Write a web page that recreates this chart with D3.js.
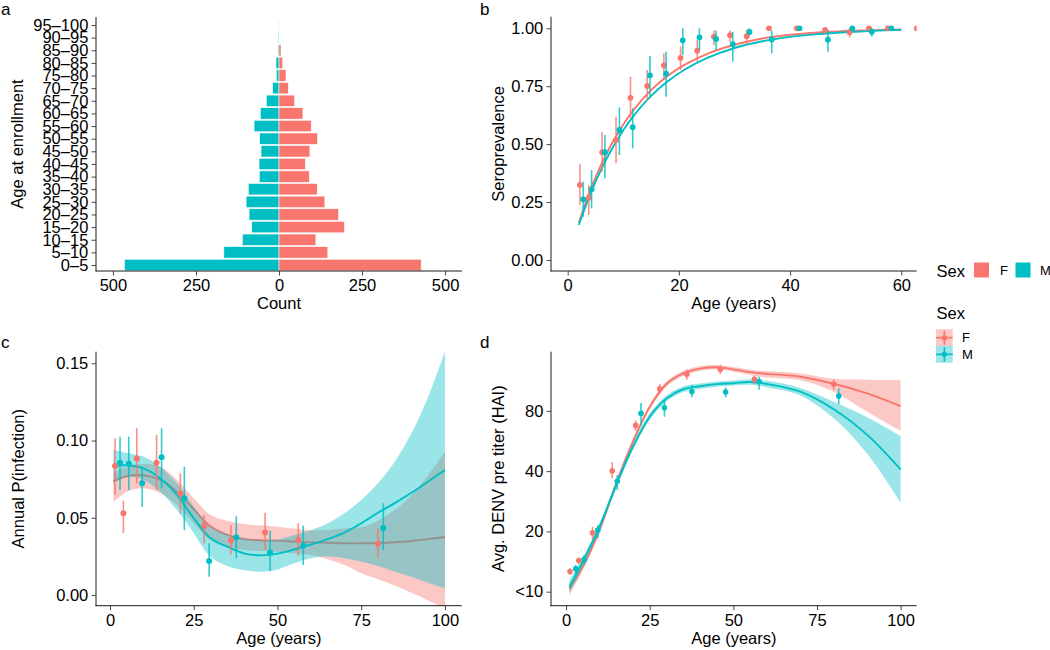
<!DOCTYPE html>
<html>
<head>
<meta charset="utf-8">
<script src="https://cdn.jsdelivr.net/npm/d3@7"></script>
<style>
  body { margin: 0; background: #fff; }
  svg text { font-family: "Liberation Sans", Arial, Helvetica, sans-serif; }
</style>
</head>
<body>
<svg id="chart" width="1050" height="650"></svg>
<script>
"use strict";

// ---- panel a : age pyramid
var ageGroups = ['0–5','5–10','10–15','15–20','20–25','25–30','30–35','35–40','40–45','45–50',
                 '50–55','55–60','60–65','65–70','70–75','75–80','80–85','85–90','90–95','95–100'];
var femaleCounts = [428,147,111,197,179,138,115,91,79,93,116,97,72,47,28,21,11,6,0,0];
var maleCounts   = [465,166,110,82,90,99,92,59,60,54,58,75,56,38,19,8,9,3,2,1];
var countTicks = [-500,-250,0,250,500];

// ---- panel b : seroprevalence  [age, estimate, low, high]
var seroFemale = [
  [2.2,0.324,0.237,0.413],[3.8,0.269,0.194,0.324],[6.2,0.465,0.381,0.551],[8.7,0.518,0.417,0.618],
  [11.3,0.700,0.612,0.791],[14.3,0.751,0.690,0.820],[17.3,0.840,0.777,0.892],[20.3,0.872,0.820,0.921],
  [23.3,0.903,0.856,0.950],[26.3,0.964,0.928,0.990],[29.2,0.970,0.940,0.990],[32.2,0.966,0.928,0.995],
  [36.2,1.000,1.000,1.000],[41.2,1.000,1.000,1.000],[46.3,0.993,0.975,1.000],[50.7,0.983,0.960,1.000],
  [54.2,1.000,1.000,1.000],[57.6,1.000,1.000,1.000],[62.8,1.000,1.000,1.000]];
var seroMale = [
  [2.8,0.262,0.187,0.338],[4.3,0.305,0.223,0.388],[6.7,0.465,0.353,0.539],[9.3,0.561,0.453,0.659],
  [11.7,0.573,0.482,0.655],[14.8,0.797,0.705,0.880],[17.7,0.804,0.705,0.899],[20.7,0.948,0.885,1.000],
  [23.7,0.961,0.906,1.000],[26.7,0.954,0.906,0.990],[29.7,0.931,0.856,0.985],[32.7,0.984,0.970,1.000],
  [36.7,0.952,0.892,0.990],[41.7,1.000,1.000,1.000],[46.8,0.951,0.899,0.993],[51.2,1.000,1.000,1.000],
  [54.7,0.985,0.965,1.000],[58.2,1.000,1.000,1.000]];
var seroCurveAges = [2,4,6,8,10,12,15,18,21,25,30,35,40,45,50,55,60];
var seroCurveF = [0.161,0.297,0.410,0.505,0.585,0.652,0.733,0.795,0.842,0.889,0.929,0.956,0.972,0.982,0.988,0.992,0.995];
var seroCurveM = [0.151,0.280,0.389,0.481,0.560,0.626,0.708,0.771,0.821,0.871,0.915,0.944,0.963,0.975,0.983,0.989,0.993];
var seroTicksX = [0,20,40,60];
var seroTicksY = [0,0.25,0.5,0.75,1];

// ---- panel c : annual probability of infection
var infFemale = [
  [1.5,0.0835,0.0648,0.1015],[4.0,0.0529,0.0400,0.0611],[8.0,0.0883,0.0723,0.1080],[13.9,0.0857,0.0680,0.1036],
  [21.0,0.0656,0.0529,0.0788],[28.1,0.0447,0.0335,0.0518],[36.1,0.0354,0.0260,0.0453],[46.3,0.0404,0.0291,0.0533],
  [56.2,0.0356,0.0252,0.0464],[80.0,0.0332,0.0238,0.0432]];
var infMale = [
  [3.0,0.0857,0.0680,0.1025],[5.6,0.0850,0.0680,0.1025],[9.6,0.0723,0.0570,0.0830],[15.4,0.0892,0.0690,0.1080],
  [22.2,0.0626,0.0420,0.0830],[29.6,0.0220,0.0119,0.0335],[37.7,0.0374,0.0238,0.0510],[47.8,0.0276,0.0155,0.0416],
  [57.7,0.0319,0.0194,0.0449],[81.6,0.0434,0.0291,0.0594]];
var infFitAges = [1,5,10,15,20,25,30,35,40,45,50,55,60,65,70,75,80,85,90,95,100];
var infFitF   = [0.0735,0.0768,0.0775,0.0745,0.0669,0.0555,0.0445,0.0390,0.0362,0.0355,0.0352,0.0346,0.0341,0.0338,0.0335,0.0335,0.0337,0.0342,0.0350,0.0362,0.0376];
var infFitFLo = [0.0600,0.0669,0.0691,0.0659,0.0583,0.0464,0.0356,0.0313,0.0291,0.0285,0.0280,0.0270,0.0259,0.0232,0.0194,0.0141,0.0102,0.0062,0.0015,-0.0035,-0.0090];
var infFitFHi = [0.0790,0.0830,0.0848,0.0830,0.0745,0.0626,0.0518,0.0481,0.0460,0.0450,0.0442,0.0430,0.0420,0.0422,0.0432,0.0438,0.0481,0.0550,0.0648,0.0777,0.0928];
var infFitM   = [0.0835,0.0840,0.0820,0.0756,0.0648,0.0497,0.0367,0.0313,0.0270,0.0257,0.0268,0.0295,0.0327,0.0362,0.0404,0.0464,0.0533,0.0595,0.0662,0.0735,0.0810];
var infFitMLo = [0.0723,0.0766,0.0745,0.0669,0.0550,0.0400,0.0248,0.0188,0.0162,0.0151,0.0166,0.0205,0.0238,0.0249,0.0238,0.0216,0.0188,0.0151,0.0119,0.0080,0.0043];
var infFitMHi = [0.0940,0.0920,0.0896,0.0830,0.0723,0.0572,0.0442,0.0395,0.0367,0.0356,0.0360,0.0389,0.0420,0.0464,0.0529,0.0615,0.0723,0.0863,0.1047,0.1284,0.1576];
var ageTicks = [0,25,50,75,100];
var infTicksY = [0,0.05,0.1,0.15];

// ---- panel d : average DENV titer
var titerFemale = [
  [1.2,12.6,12.1,13.1],[3.8,14.3,13.7,14.8],[7.9,19.7,18.3,21.1],[13.8,40.1,36.8,44.5],[20.8,67.7,63.6,71.9],
  [28.0,103,97,109],[36.1,122,114.5,128.6],[46.1,129,122,136],[56.3,115,109,120],[80.0,109,102,114.5]];
var titerMale = [
  [2.9,13.0,12.3,13.6],[5.4,14.5,13.6,15.2],[9.5,20.3,18.5,21.5],[15.3,35.6,32.2,38.2],[22.4,77.7,67.8,87.6],
  [29.4,82.9,74.8,90.3],[37.6,100,93.5,107.6],[47.7,99.3,93.5,104.8],[57.7,112,102,118.5],[81.5,94.8,86.6,103.7]];
var titerFitAges = [1,5,10,15,20,25,30,35,40,45,50,55,60,70,80,90,100];
var titerFitF   = [10.3,13.3,20.3,34.8,56.2,83.6,108.9,123,130,132.2,129,125,122.5,118.5,109.3,97.8,84.4];
var titerFitFLo = [9.6,12.8,19.6,33.6,54.4,81.2,105.8,119.5,126.5,129,125.5,121,117.5,113.8,99.7,79.2,63.6];
var titerFitFHi = [11.0,13.8,21.0,36.0,58.0,86.0,112,126.5,133.5,135.5,132.5,128.5,126.5,123,115.6,114.4,113.8];
var titerFitM   = [10.6,14.1,21.1,34.1,53.0,74.8,92.2,102.6,106.2,108.8,110,111.5,109,99.7,81.5,60.7,40.8];
var titerFitMLo = [9.8,13.4,20.3,32.8,51.0,72.0,89.0,99.3,103,105.7,107,108,105,95.5,73.4,48.9,27.8];
var titerFitMHi = [11.4,14.8,22.0,35.5,55.2,77.8,95.5,106,109.5,112,113.5,115,113,104,88.8,74.4,59.9];
var titerTicks = [10,20,40,80];
var titerTickLabels = ['<10','20','40','80'];

(function draw() {
  var FEMALE = '#F8766D', MALE = '#00BFC4';
  var FONT = '16.5px';
  var svg = d3.select('#chart');
  var defs = svg.append('defs');

  var boxA = {left: 96, right: 462, top: 17, bottom: 271};
  var boxB = {left: 551, right: 916.7, top: 16.7, bottom: 271};
  var boxC = {left: 96, right: 461.7, top: 351.7, bottom: 605.7};
  var boxD = {left: 551, right: 916.7, top: 351.7, bottom: 605.7};

  function panel(id, box) {
    defs.append('clipPath').attr('id', 'clip-' + id).append('rect')
      .attr('x', box.left).attr('y', box.top)
      .attr('width', box.right - box.left).attr('height', box.bottom - box.top);
    var g = svg.append('g');
    var plot = g.append('g').attr('clip-path', 'url(#clip-' + id + ')');
    return {g: g, plot: plot};
  }

  function styleAxis(ax) {
    ax.select('.domain').remove();
    ax.selectAll('.tick line').attr('stroke', '#333').attr('stroke-width', 0.9);
    ax.selectAll('.tick text').attr('fill', '#000').style('font-size', FONT);
  }

  function bottomAxis(g, box, scale, ticks, fmt) {
    var ax = g.append('g').attr('transform', 'translate(0,' + box.bottom + ')')
      .call(d3.axisBottom(scale).tickValues(ticks).tickFormat(fmt).tickSize(4.5).tickPadding(3.8));
    styleAxis(ax);
  }

  function leftAxis(g, box, scale, ticks, fmt) {
    var axis = d3.axisLeft(scale).tickSize(4.5).tickPadding(3.2);
    if (ticks) axis.tickValues(ticks);
    if (fmt) axis.tickFormat(fmt);
    var ax = g.append('g').attr('transform', 'translate(' + box.left + ',0)').call(axis);
    styleAxis(ax);
  }

  function axisLines(g, box) {
    g.append('line').attr('x1', box.left).attr('x2', box.left).attr('y1', box.top).attr('y2', box.bottom + 0.45)
      .attr('stroke', '#000').attr('stroke-width', 0.9);
    g.append('line').attr('x1', box.left - 0.45).attr('x2', box.right).attr('y1', box.bottom).attr('y2', box.bottom)
      .attr('stroke', '#000').attr('stroke-width', 0.9);
  }

  function titles(g, box, xText, yText, yX) {
    g.append('text').attr('x', (box.left + box.right) / 2).attr('y', box.bottom + 38)
      .attr('text-anchor', 'middle').style('font-size', FONT).text(xText);
    var cy = (box.top + box.bottom) / 2;
    g.append('text').attr('transform', 'translate(' + yX + ',' + cy + ') rotate(-90)')
      .attr('text-anchor', 'middle').style('font-size', FONT).text(yText);
  }

  function letter(text, x, y) {
    svg.append('text').attr('x', x).attr('y', y).style('font-size', '17px').text(text);
  }

  function pointRange(plot, data, x, y, color, r) {
    plot.append('g').selectAll('line').data(data).enter().append('line')
      .attr('x1', function(d) { return x(d[0]); }).attr('x2', function(d) { return x(d[0]); })
      .attr('y1', function(d) { return y(d[2]); }).attr('y2', function(d) { return y(d[3]); })
      .attr('stroke', color).attr('stroke-width', 1.6).attr('opacity', 0.8);
    plot.append('g').selectAll('circle').data(data).enter().append('circle')
      .attr('cx', function(d) { return x(d[0]); }).attr('cy', function(d) { return y(d[1]); })
      .attr('r', r).attr('fill', color);
  }

  function smooth(plot, ages, fit, lo, hi, x, y, color) {
    if (lo) {
      var area = d3.area().curve(d3.curveCatmullRom.alpha(0.5))
        .x(function(d, i) { return x(ages[i]); })
        .y0(function(d, i) { return y(lo[i]); })
        .y1(function(d, i) { return y(hi[i]); });
      plot.append('path').datum(ages).attr('d', area).attr('fill', color).attr('fill-opacity', 0.4);
    }
    var line = d3.line().curve(d3.curveCatmullRom.alpha(0.5))
      .x(function(d, i) { return x(ages[i]); })
      .y(function(d) { return y(d); });
    plot.append('path').datum(fit).attr('d', line).attr('fill', 'none')
      .attr('stroke', color).attr('stroke-width', 1.9);
  }

  // ---------- a
  var pa = panel('a', boxA);
  var xA = d3.scaleLinear().domain([-551, 551]).range([boxA.left, boxA.right]);
  var yA = d3.scalePoint().domain(ageGroups).range([265, 25]);
  var bh = yA.step() * 0.9;
  pa.plot.append('g').selectAll('rect').data(maleCounts).enter().append('rect')
    .attr('x', function(d) { return xA(-d); }).attr('width', function(d) { return xA(0) - xA(-d); })
    .attr('y', function(d, i) { return yA(ageGroups[i]) - bh / 2; }).attr('height', bh)
    .attr('fill', MALE).attr('stroke', '#fff').attr('stroke-width', 0.5);
  pa.plot.append('g').selectAll('rect').data(femaleCounts).enter().append('rect')
    .attr('x', xA(0)).attr('width', function(d) { return xA(d) - xA(0); })
    .attr('y', function(d, i) { return yA(ageGroups[i]) - bh / 2; }).attr('height', bh)
    .attr('fill', FEMALE).attr('stroke', '#fff').attr('stroke-width', 0.5);
  axisLines(pa.g, boxA);
  bottomAxis(pa.g, boxA, xA, countTicks, function(d) { return Math.abs(d); });
  leftAxis(pa.g, boxA, yA);
  titles(pa.g, boxA, 'Count', 'Age at enrollment', 23);
  letter('a', 1, 15);

  // ---------- b
  var pb = panel('b', boxB);
  var xB = d3.scaleLinear().domain([-3.0, 62.77]).range([boxB.left, boxB.right]);
  var yB = d3.scaleLinear().domain([-0.0475, 1.05]).range([boxB.bottom, boxB.top]);
  smooth(pb.plot, seroCurveAges, seroCurveF, null, null, xB, yB, FEMALE);
  smooth(pb.plot, seroCurveAges, seroCurveM, null, null, xB, yB, MALE);
  pointRange(pb.plot, seroFemale, xB, yB, FEMALE, 2.9);
  pointRange(pb.plot, seroMale, xB, yB, MALE, 2.9);
  axisLines(pb.g, boxB);
  bottomAxis(pb.g, boxB, xB, seroTicksX, d3.format('d'));
  leftAxis(pb.g, boxB, yB, seroTicksY, d3.format('.2f'));
  titles(pb.g, boxB, 'Age (years)', 'Seroprevalence', 503.5);
  letter('b', 480, 15);

  // ---------- c
  var pc = panel('c', boxC);
  var xC = d3.scaleLinear().domain([-4.18, 105]).range([boxC.left, boxC.right]);
  var yC = d3.scaleLinear().domain([-0.0069, 0.1575]).range([boxC.bottom, boxC.top]);
  smooth(pc.plot, infFitAges, infFitF, infFitFLo, infFitFHi, xC, yC, FEMALE);
  smooth(pc.plot, infFitAges, infFitM, infFitMLo, infFitMHi, xC, yC, MALE);
  pointRange(pc.plot, infFemale, xC, yC, FEMALE, 3);
  pointRange(pc.plot, infMale, xC, yC, MALE, 3);
  axisLines(pc.g, boxC);
  bottomAxis(pc.g, boxC, xC, ageTicks, d3.format('d'));
  leftAxis(pc.g, boxC, yC, infTicksY, d3.format('.2f'));
  titles(pc.g, boxC, 'Age (years)', 'Annual P(infection)', 23.5);
  letter('c', 1, 348);

  // ---------- d
  var pd = panel('d', boxD);
  var xD = d3.scaleLinear().domain([-4.5, 104.8]).range([boxD.left, boxD.right]);
  var yD = d3.scaleLog().base(2).domain([8.51, 158]).range([boxD.bottom, boxD.top]);
  smooth(pd.plot, titerFitAges, titerFitF, titerFitFLo, titerFitFHi, xD, yD, FEMALE);
  smooth(pd.plot, titerFitAges, titerFitM, titerFitMLo, titerFitMHi, xD, yD, MALE);
  pointRange(pd.plot, titerFemale, xD, yD, FEMALE, 2.8);
  pointRange(pd.plot, titerMale, xD, yD, MALE, 2.8);
  axisLines(pd.g, boxD);
  bottomAxis(pd.g, boxD, xD, ageTicks, d3.format('d'));
  leftAxis(pd.g, boxD, yD, titerTicks, function(d, i) { return titerTickLabels[i]; });
  titles(pd.g, boxD, 'Age (years)', 'Avg. DENV pre titer (HAI)', 503.5);
  letter('d', 480, 348);

  // ---------- legend 1 (fill)
  var lg1 = svg.append('g');
  lg1.append('text').attr('x', 936.5).attr('y', 276.5).style('font-size', FONT).text('Sex');
  [['F', FEMALE, 974, 1000], ['M', MALE, 1015.5, 1040]].forEach(function(k) {
    lg1.append('rect').attr('x', k[2]).attr('y', 262.5).attr('width', 15).attr('height', 15).attr('fill', k[1]);
    lg1.append('text').attr('x', k[3]).attr('y', 275).style('font-size', '13px').text(k[0]);
  });

  // ---------- legend 2 (smooth + pointrange)
  var lg2 = svg.append('g');
  lg2.append('text').attr('x', 936.5).attr('y', 319.3).style('font-size', FONT).text('Sex');
  [['F', FEMALE, 329.3], ['M', MALE, 346]].forEach(function(k) {
    var kx = 936, ks = 16.7, cx = kx + ks / 2, cy = k[2] + ks / 2;
    lg2.append('rect').attr('x', kx).attr('y', k[2]).attr('width', ks).attr('height', ks)
      .attr('fill', k[1]).attr('fill-opacity', 0.4);
    lg2.append('line').attr('x1', kx).attr('x2', kx + ks).attr('y1', cy).attr('y2', cy)
      .attr('stroke', k[1]).attr('stroke-width', 1.6);
    lg2.append('line').attr('x1', cx).attr('x2', cx).attr('y1', k[2] + 1.2).attr('y2', k[2] + ks - 1.2)
      .attr('stroke', k[1]).attr('stroke-width', 1.6);
    lg2.append('circle').attr('cx', cx).attr('cy', cy).attr('r', 2.7).attr('fill', k[1]);
    lg2.append('text').attr('x', 962).attr('y', cy + 4.7).style('font-size', '13px').text(k[0]);
  });
})();
</script>
</body>
</html>
